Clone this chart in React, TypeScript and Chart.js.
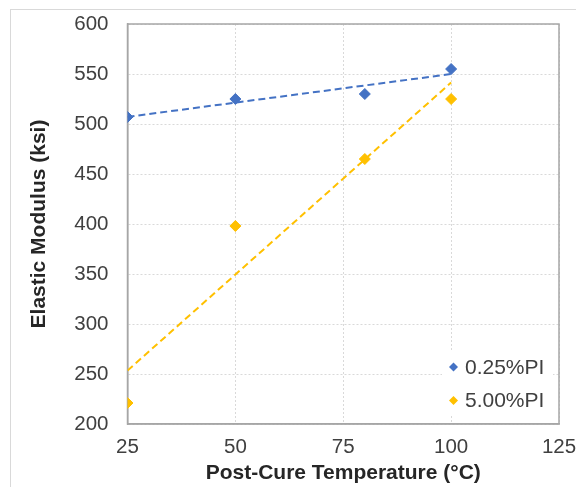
import React, { useEffect, useRef } from "react";
import { Chart, registerables } from "chart.js";

Chart.register(...registerables);

// Post-cure temperature (°C) for each test
const temperatures = [25, 50, 80, 100];
// Elastic modulus (ksi) per photoinitiator loading
const modulusLowPI = [507, 525, 530, 555];
const modulusHighPI = [221, 398, 465, 525];
const seriesLabels = ["0.25%PI", "5.00%PI"];
const seriesColors = ["#4472C4", "#FFC000"];

const xTicks = [25, 50, 75, 100, 125];
const yTicks = [200, 250, 300, 350, 400, 450, 500, 550, 600];

const FONT = "'Liberation Sans', Arial, sans-serif";
const TEXT = "#404040";

// Least-squares linear trendline across the measured temperature range
function trendline(xs: number[], ys: number[]) {
  const n = xs.length;
  const mx = xs.reduce((a, b) => a + b, 0) / n;
  const my = ys.reduce((a, b) => a + b, 0) / n;
  let sxy = 0;
  let sxx = 0;
  for (let i = 0; i < n; i++) {
    sxy += (xs[i] - mx) * (ys[i] - my);
    sxx += (xs[i] - mx) * (xs[i] - mx);
  }
  const slope = sxy / sxx;
  const x0 = Math.min(...xs);
  const x1 = Math.max(...xs);
  return [
    { x: x0, y: my + slope * (x0 - mx) },
    { x: x1, y: my + slope * (x1 - mx) },
  ];
}

const points = (ys: number[]) => temperatures.map((x, i) => ({ x, y: ys[i] }));

// Keep tick-label overflow from pushing the plot area inwards
const clearScalePadding = (scale: any) => {
  scale.paddingTop = 0;
  scale.paddingBottom = 0;
  scale.paddingLeft = 0;
  scale.paddingRight = 0;
};

// Outer chart frame and the plot-area box
const framePlugin = {
  id: "frame",
  beforeDraw(chart: any) {
    const { ctx } = chart;
    ctx.save();
    ctx.fillStyle = "#ffffff";
    ctx.fillRect(0, 0, chart.width, chart.height);
    ctx.strokeStyle = "#D9D9D9";
    ctx.lineWidth = 1;
    ctx.strokeRect(10.5, 9.5, 700, 700);
    ctx.restore();
  },
  beforeDatasetsDraw(chart: any) {
    const { ctx, chartArea: a } = chart;
    ctx.save();
    ctx.strokeStyle = "#A6A6A6";
    ctx.lineWidth = 1.5;
    ctx.strokeRect(a.left, a.top, a.right - a.left, a.bottom - a.top);
    ctx.restore();
  },
};

// Legend box sitting inside the lower-right corner of the plot
const insideLegendPlugin = {
  id: "insideLegend",
  afterDraw(chart: any) {
    const { ctx, chartArea: a } = chart;
    const boxRight = a.right - 6;
    const boxLeft = boxRight - 111;
    const boxBottom = a.bottom - 9;
    const boxTop = boxBottom - 63;
    ctx.save();
    ctx.fillStyle = "#ffffff";
    ctx.fillRect(boxLeft, boxTop, boxRight - boxLeft, boxBottom - boxTop);
    ctx.font = `21px ${FONT}`;
    ctx.textBaseline = "middle";
    ctx.textAlign = "left";
    seriesLabels.forEach((label, i) => {
      const cy = boxTop + 15 + i * 33.5;
      const cx = boxLeft + 11.5;
      const r = 4.5;
      ctx.fillStyle = seriesColors[i];
      ctx.beginPath();
      ctx.moveTo(cx, cy - r);
      ctx.lineTo(cx + r, cy);
      ctx.lineTo(cx, cy + r);
      ctx.lineTo(cx - r, cy);
      ctx.closePath();
      ctx.fill();
      ctx.fillStyle = TEXT;
      ctx.fillText(label, cx + 11.5, cy + 1);
    });
    ctx.restore();
  },
};

export default function App() {
  const canvasRef = useRef<HTMLCanvasElement | null>(null);

  useEffect(() => {
    document.body.style.margin = "0";
    const canvas = canvasRef.current;
    if (!canvas) return;

    const markerSet = (ys: number[], i: number) => ({
      type: "scatter" as const,
      label: seriesLabels[i],
      data: points(ys),
      showLine: false,
      pointStyle: "rectRot" as const,
      pointRadius: 5.5,
      pointHoverRadius: 5.5,
      pointBorderWidth: 1,
      backgroundColor: seriesColors[i],
      borderColor: seriesColors[i],
      order: 1,
    });

    const trendSet = (ys: number[], i: number) => ({
      type: "scatter" as const,
      label: seriesLabels[i] + " trend",
      data: trendline(temperatures, ys),
      showLine: true,
      pointRadius: 0,
      borderColor: seriesColors[i],
      backgroundColor: seriesColors[i],
      borderWidth: 2,
      borderDash: [7, 4],
      order: 2,
    });

    const chart = new Chart(canvas, {
      type: "scatter",
      data: {
        datasets: [
          trendSet(modulusLowPI, 0),
          trendSet(modulusHighPI, 1),
          markerSet(modulusLowPI, 0),
          markerSet(modulusHighPI, 1),
        ],
      },
      options: {
        animation: false,
        responsive: false,
        events: [],
        layout: { padding: { left: 10, top: 24, right: 17, bottom: 0 } },
        plugins: {
          legend: { display: false },
          tooltip: { enabled: false },
        },
        scales: {
          x: {
            type: "linear",
            min: xTicks[0],
            max: xTicks[xTicks.length - 1],
            afterBuildTicks: (scale: any) => {
              scale.ticks = xTicks.map((v) => ({ value: v }));
            },
            afterFit: (scale: any) => {
              scale.height = 63;
              clearScalePadding(scale);
            },
            ticks: {
              color: TEXT,
              font: { family: FONT, size: 20.5 },
              padding: 11,
              maxRotation: 0,
            },
            grid: { color: "#D9D9D9", lineWidth: 1, drawTicks: false },
            border: { display: true, color: "#A6A6A6", width: 1.5, dash: [2, 2] },
            title: {
              display: true,
              text: "Post-Cure Temperature (°C)",
              color: "#262626",
              font: { family: FONT, size: 21, weight: "bold" },
              padding: { top: 0, bottom: 1.5 },
            },
          },
          y: {
            type: "linear",
            min: yTicks[0],
            max: yTicks[yTicks.length - 1],
            afterBuildTicks: (scale: any) => {
              scale.ticks = yTicks.map((v) => ({ value: v }));
            },
            afterFit: (scale: any) => {
              scale.width = 117.5;
              clearScalePadding(scale);
            },
            ticks: {
              color: TEXT,
              font: { family: FONT, size: 20.5 },
              padding: 19,
            },
            grid: { color: "#D9D9D9", lineWidth: 1, drawTicks: false },
            border: { display: true, color: "#A6A6A6", width: 1.5, dash: [2, 2] },
            title: {
              display: true,
              text: "Elastic Modulus (ksi)",
              color: "#262626",
              font: { family: FONT, size: 21, weight: "bold" },
              padding: { top: 17, bottom: 0 },
            },
          },
        },
      },
      plugins: [framePlugin, insideLegendPlugin],
    });

    return () => chart.destroy();
  }, []);

  return (
    <div style={{ width: 576, height: 487 }}>
      <canvas ref={canvasRef} width={576} height={487} style={{ display: "block" }} />
    </div>
  );
}
